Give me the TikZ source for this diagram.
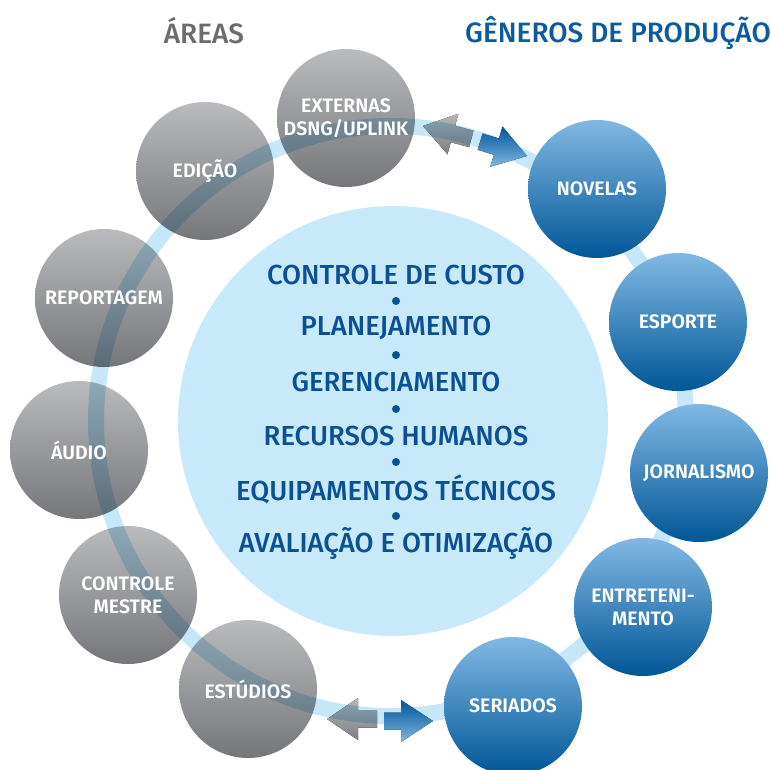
\documentclass[tikz,border=0pt]{standalone}
\usepackage{fontspec}
\setmainfont{Fira Sans}[UprightFont={* Medium},BoldFont={* SemiBold}]
\definecolor{gtop}{HTML}{BABBBD}
\definecolor{gbot}{HTML}{75767A}
\definecolor{btop}{HTML}{82B8E3}
\definecolor{bbot}{HTML}{005697}
\definecolor{ringc}{HTML}{C5E7F8}
\definecolor{corec}{HTML}{C8E9F9}
\definecolor{coretext}{HTML}{0B4F95}
\definecolor{headgray}{HTML}{6B6C6E}
\definecolor{headblue}{HTML}{0B5A9E}
\definecolor{gatop}{HTML}{B5B6B8}
\definecolor{gabot}{HTML}{7E8083}
\definecolor{batop}{HTML}{00569A}
\definecolor{babot}{HTML}{7FB5E0}
\tikzset{
  gcirc/.style={circle, minimum size=138pt, inner sep=0pt, top color=gtop, bottom color=gbot},
  bcirc/.style={circle, minimum size=138pt, inner sep=0pt, top color=btop, bottom color=bbot},
  lbl/.style={text=white, align=center, font=\bfseries\fontsize{19.5}{23}\selectfont},
  coreline/.style={text=coretext, font=\fontsize{27.5}{30}\selectfont},
  coredot/.style={circle, fill=coretext, minimum size=8pt, inner sep=0pt},
  header/.style={font=\fontsize{28}{30}\selectfont},
  garrow/.pic={\fill[top color=gatop, bottom color=gabot]
     (0,0) -- (31,-21) -- (31,-8.5) -- (50,-8.5) -- (50,8.5) -- (31,8.5) -- (31,21) -- cycle;},
  barrow/.pic={\fill[top color=batop, bottom color=babot]
     (0,0) -- (-32,-21) -- (-32,-8.5) -- (-49,-8.5) -- (-49,8.5) -- (-32,8.5) -- (-32,21) -- cycle;}
}
\begin{document}
\begin{tikzpicture}[x=1pt,y=-1pt]
\useasboundingbox (0,0) rectangle (771,769);
% gray circles (areas)
\node[gcirc] (ext) at (346,118) {};
\node[gcirc] (edi) at (205,171) {};
\node[gcirc] (rep) at (104,298) {};
\node[gcirc] (aud) at (79,450) {};
\node[gcirc] (cm)  at (128,595) {};
\node[gcirc] (est) at (248,689) {};
% gray arrows
\pic[rotate=-15] at (423,126) {garrow};
\pic at (327,719) {garrow};
% ring
\coordinate (rc) at (391,421);
\begin{scope}[blend mode=multiply]
\draw[ringc, line width=16pt] (rc) circle[radius=295];
\end{scope}
% labels of gray circles
\node[lbl] at (ext.center) {EXTERNAS\\DSNG/UPLINK};
\node[lbl] at (edi.center) {EDIÇÃO};
\node[lbl] at (rep.center) {REPORTAGEM};
\node[lbl] at (aud.center) {ÁUDIO};
\node[lbl] at (cm.center)  {CONTROLE\\MESTRE};
\node[lbl] at (est.center) {ESTÚDIOS};
% blue circles (genres)
\node[bcirc, lbl] (nov) at (597,189) {NOVELAS};
\node[bcirc, lbl] (esp) at (678,322) {ESPORTE};
\node[bcirc, lbl] (jor) at (699,473) {JORNALISMO};
\node[bcirc, lbl] (ent) at (643,607) {ENTRETENI-\\MENTO};
\node[bcirc, lbl] (ser) at (513,706) {SERIADOS};
% blue arrows
\pic[rotate=-17] at (527,156) {barrow};
\pic at (433,721) {barrow};
% core
\node[circle, fill=corec, minimum size=430pt, inner sep=0pt] (core) at (393,421) {};
\node[coreline] (t1) at (396,275) {CONTROLE DE CUSTO};
\node[coredot]  (d1) at (396,301) {};
\node[coreline] (t2) at (396,328) {PLANEJAMENTO};
\node[coredot]  (d2) at (396,355) {};
\node[coreline] (t3) at (396,382) {GERENCIAMENTO};
\node[coredot]  (d3) at (396,409) {};
\node[coreline] (t4) at (396,436) {RECURSOS HUMANOS};
\node[coredot]  (d4) at (396,462) {};
\node[coreline] (t5) at (396,489) {EQUIPAMENTOS TÉCNICOS};
\node[coredot]  (d5) at (396,516) {};
\node[coreline] (t6) at (396,543) {AVALIAÇÃO E OTIMIZAÇÃO};
% headers
\node[header, text=headgray] (h1) at (204,31) {ÁREAS};
\node[header, text=headblue] (h2) at (618,33) {GÊNEROS DE PRODUÇÃO};
\end{tikzpicture}
\end{document}
